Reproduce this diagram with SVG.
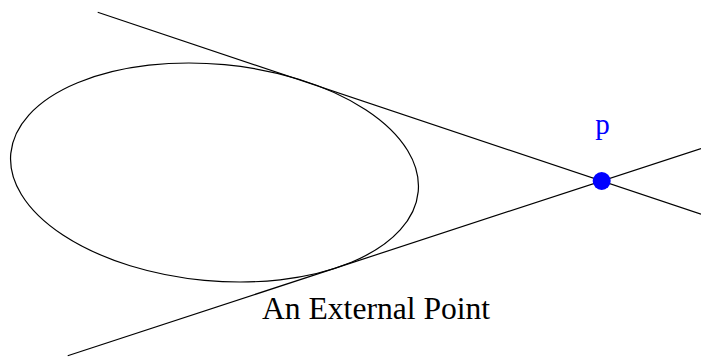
<svg xmlns="http://www.w3.org/2000/svg" width="701" height="358" viewBox="0 0 701 358">
<style>
.ln{stroke:#000;stroke-width:1.2;fill:none}
.lbl{font-family:"Liberation Serif","Times New Roman",serif}
</style>
<rect width="701" height="358" fill="#fff"/>
<g id="ellipse">
<ellipse class="ln" cx="214.5" cy="172.5" rx="204.6" ry="108.3" transform="rotate(5.35 214.5 172.5)"/>
</g>
<g id="connectors">
<line class="ln" x1="97.7" y1="12.3" x2="701" y2="214.2"/>
<line class="ln" x1="67.7" y1="355.7" x2="701" y2="148.5"/>
</g>
<g id="point-p">
<circle cx="601.7" cy="181" r="9" fill="#0000ff"/>
<text class="lbl" x="602.5" y="133.5" font-size="29" fill="#0000ff" text-anchor="middle">p</text>
</g>
<g id="caption">
<text class="lbl" x="262" y="319" font-size="31.6" fill="#000">An External Point</text>
</g>
</svg>
